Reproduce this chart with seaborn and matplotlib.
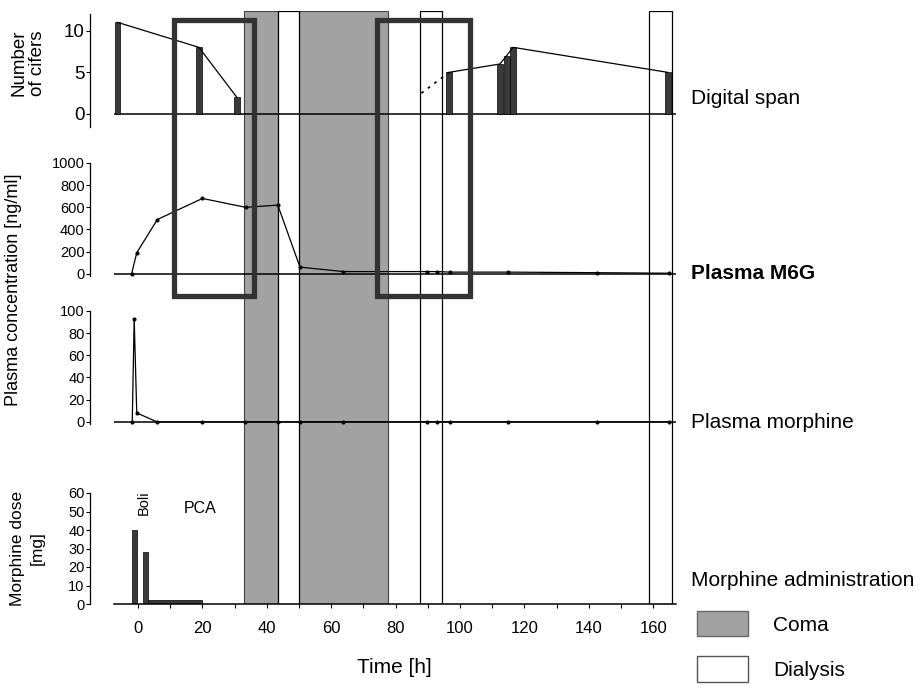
import matplotlib
matplotlib.use('Agg')
import matplotlib.pyplot as plt
import matplotlib.transforms as mtransforms
from matplotlib.patches import Rectangle, Patch
import pandas as pd
import seaborn as sns

# digit span (number of cifers)
span_time = [-6.4, 18.9, 30.7, 96.6, 112.4, 114.5, 116.5, 164.5]
span_cifers = [11, 8, 2, 5, 6, 7, 8, 5]
span_segment = [1, 1, 1, 2, 2, 2, 2, 2]
span_dotted_time = [88, 96.6]
span_dotted_cifers = [2.5, 5]

# plasma M6G [ng/ml]
m6g_time = [-2, -0.4, 6, 20, 33.4, 43.4, 50.3, 63.8, 89.6, 92.8, 97, 115, 142.5, 165]
m6g_conc = [0, 190, 490, 680, 600, 620, 60, 20, 20, 20, 15, 15, 10, 5]

# plasma morphine [ng/ml]
mor_time = [-1.8, -1.2, -0.4, 5.8, 20, 33.2, 43.4, 50.3, 63.8, 89.6, 92.8, 97, 115, 142.5, 165]
mor_conc = [0, 93, 8, 0, 0, 0, 0, 0, 0, 0, 0, 0, 0, 0, 0]

# morphine administration (boli + PCA)
dose_start = [-1.8, 1.6, 3.2]
dose_end = [-0.2, 3.2, 19.8]
dose_mg = [40, 28, 2]

# periods [h]
coma_periods = [(33, 43.5), (50, 77.6)]
dialysis_periods = [(43.5, 50), (87.6, 94.4), (158.7, 165.8)]
highlight_periods = [(11.2, 36.0), (74.2, 103.1)]

x_ticks = [0, 20, 40, 60, 80, 100, 120, 140, 160]

span_df = pd.DataFrame({'time': span_time, 'cifers': span_cifers, 'seg': span_segment})
m6g_df = pd.DataFrame({'time': m6g_time, 'conc': m6g_conc})
mor_df = pd.DataFrame({'time': mor_time, 'conc': mor_conc})

sns.set_theme(style='white')
plt.rcParams['font.family'] = ['Liberation Sans', 'DejaVu Sans']
plt.rcParams['text.color'] = 'black'
plt.rcParams['axes.labelcolor'] = 'black'
plt.rcParams['xtick.color'] = 'black'
plt.rcParams['ytick.color'] = 'black'

W, H = 921, 691
X0, X1 = 113.9, 675.7
XLIM = (-7.5, 167)
COMA = '#a2a2a2'
DARK = '#3a3a3a'

fig = plt.figure(figsize=(W / 100, H / 100), dpi=100)


def add_px_axes(top, bottom):
    return fig.add_axes([X0 / W, 1 - bottom / H, (X1 - X0) / W, (bottom - top) / H])


# background with coma / dialysis periods
bg = add_px_axes(11, 604)
bg.set_xlim(XLIM)
bg.set_ylim(0, 1)
bg.axis('off')
for a, b in coma_periods:
    bg.axvspan(a, b, facecolor=COMA, edgecolor='#444444', lw=0.8)
for a, b in dialysis_periods:
    bg.axvspan(a, b, facecolor='white', edgecolor='black', lw=0.9)

ax1 = add_px_axes(14, 126.5)
ax2 = add_px_axes(163, 276)
ax3 = add_px_axes(311, 424)
ax4 = add_px_axes(493, 604)

for ax in (ax1, ax2, ax3, ax4):
    ax.patch.set_visible(False)
    ax.set_xlim(XLIM)
    sns.despine(ax=ax, bottom=(ax is not ax4), offset={'left': 17})
    ax.spines['left'].set_color('black')
    ax.spines['left'].set_linewidth(0.9)
    ax.tick_params(axis='y', which='major', left=True, length=3, width=0.8, pad=1,
                   color='black', labelcolor='black')
    if ax is not ax4:
        ax.set_xticks([])
        ax.axhline(0, color='black', lw=1.1, zorder=1)

# digit span
ax1.bar(span_time, span_cifers, width=1.8, color=DARK, edgecolor='black', lw=0.5, zorder=2)
sns.lineplot(data=span_df, x='time', y='cifers', units='seg', estimator=None,
             color='black', lw=0.9, ax=ax1, zorder=3)
ax1.plot(span_dotted_time, span_dotted_cifers, color='black', lw=1.3, ls=(0, (1.5, 3)))
ax1.set_ylim(-1.5, 12)
ax1.set_yticks([0, 5, 10])
ax1.tick_params(axis='y', labelsize=13.5)

# plasma M6G
sns.lineplot(data=m6g_df, x='time', y='conc', color='black', lw=0.9,
             marker='o', markersize=2.2, markeredgecolor='black', ax=ax2, zorder=3)
ax2.set_ylim(-20, 1000)
ax2.set_yticks([0, 200, 400, 600, 800, 1000])
ax2.tick_params(axis='y', labelsize=10.5)

# plasma morphine
sns.lineplot(data=mor_df, x='time', y='conc', color='black', lw=0.9,
             marker='o', markersize=2.2, markeredgecolor='black', ax=ax3, zorder=3)
ax3.set_ylim(-2, 100)
ax3.set_yticks([0, 20, 40, 60, 80, 100])
ax3.tick_params(axis='y', labelsize=10.5)

# morphine dose
widths = [e - s for s, e in zip(dose_start, dose_end)]
ax4.bar(dose_start, dose_mg, width=widths, align='edge', color=DARK,
        edgecolor='black', lw=0.5, zorder=2)
ax4.set_ylim(0, 60)
ax4.set_yticks([0, 10, 20, 30, 40, 50, 60])
ax4.tick_params(axis='y', labelsize=10.5)
ax4.set_xticks(x_ticks)
ax4.set_xticks(range(10, 170, 20), minor=True)
ax4.tick_params(axis='x', which='both', bottom=True, length=3, width=0.8,
                labelsize=12, pad=9, color='black', labelcolor='black')
ax4.spines['bottom'].set_color('black')
ax4.spines['bottom'].set_linewidth(1.1)
ax4.set_xlabel('Time [h]', fontsize=15, labelpad=16, color='black')
ax4.text(1.9, 55, 'Boli', rotation=90, ha='center', va='center', fontsize=10.5)
ax4.text(19.3, 51.5, 'PCA', ha='center', va='center', fontsize=11.5)

for ax in (ax1, ax2, ax3):
    ax.set_ylabel('')
    ax.set_xlabel('')
ax4.set_ylabel('')

# highlight frames spanning the top two panels
trans = mtransforms.blended_transform_factory(bg.transData, fig.transFigure)
for a, b in highlight_periods:
    fig.add_artist(Rectangle((a, 1 - 296 / H), b - a, (296 - 20) / H, transform=trans,
                             fill=False, edgecolor='#333333', lw=3.8, zorder=10))

# y labels
fig.text(28 / W, 1 - 63 / H, 'Number\nof cifers', rotation=90, ha='center', va='center',
         fontsize=13.5, multialignment='center', linespacing=1.15)
fig.text(14 / W, 1 - 290 / H, 'Plasma concentration [ng/ml]', rotation=90,
         ha='center', va='center', fontsize=13)
fig.text(27 / W, 1 - 548 / H, 'Morphine dose\n[mg]', rotation=90, ha='center', va='center',
         fontsize=12.5, multialignment='center', linespacing=1.4)

# right-hand panel names
fig.text(691 / W, 1 - 98 / H, 'Digital span', fontsize=15, va='center')
fig.text(691 / W, 1 - 274 / H, 'Plasma M6G', fontsize=15, va='center', fontweight='bold')
fig.text(691 / W, 1 - 423 / H, 'Plasma morphine', fontsize=15, va='center')
fig.text(691 / W, 1 - 580 / H, 'Morphine administration', fontsize=15, va='center')

handles = [Patch(facecolor=COMA, edgecolor='#666666', label='Coma'),
           Patch(facecolor='white', edgecolor='#555555', label='Dialysis')]
fig.legend(handles=handles, loc='upper left', bbox_to_anchor=(697 / W, 1 - 611 / H),
           frameon=False, fontsize=15, handlelength=2.45, handleheight=1.5,
           handletextpad=1.2, labelspacing=0.95, borderpad=0, borderaxespad=0)

fig.savefig('out.png', dpi=100)
